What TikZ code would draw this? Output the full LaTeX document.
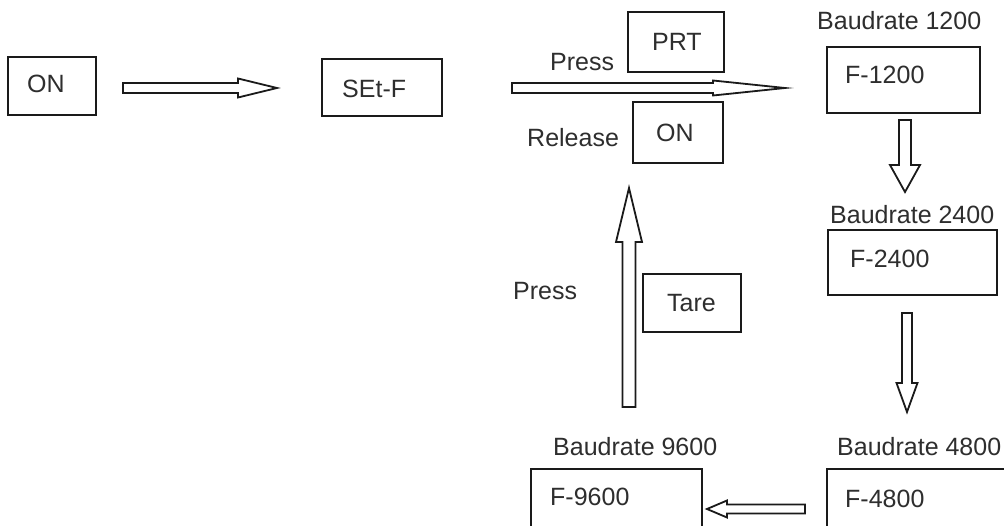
\documentclass[tikz,border=0pt]{standalone}
\usepackage{fontspec}
\setmainfont{Liberation Sans}
\usetikzlibrary{calc}
\definecolor{txtgray}{HTML}{2E2E2E}
\definecolor{linegray}{HTML}{1A1A1A}
\tikzset{
  box/.style={draw=linegray, line width=1.8pt, inner sep=0pt},
  lbl/.style={anchor=base west, inner sep=0pt, text=txtgray, font=\fontsize{25}{30}\selectfont},
  arr/.style={draw=linegray, line width=1.8pt, line join=miter, fill=white}
}
\newcommand\blockarr[5]{%
  \coordinate (tmphb) at ($(#2)!#4!(#1)$);
  \draw[arr] ($(#1)!#3!90:(#2)$) -- ($(tmphb)!#3!90:(#2)$) -- ($(tmphb)!#5!90:(#2)$) -- (#2)
    -- ($(tmphb)!#5!-90:(#2)$) -- ($(tmphb)!#3!-90:(#2)$) -- ($(#1)!#3!-90:(#2)$) -- cycle;}
\begin{document}
\begin{tikzpicture}[x=1pt,y=-1pt]
\useasboundingbox (0,0) rectangle (1004,526);
\clip (0,0) rectangle (1004,526);
\fill[white] (0,0) rectangle (1004,526);
% boxes
\node[box, minimum width=88pt, minimum height=58pt] (onbox) at (52,86) {};
\node[box, minimum width=120pt, minimum height=57pt] (setf) at (382,87.5) {};
\node[box, minimum width=96pt, minimum height=60pt] (prt) at (676,42) {};
\node[box, minimum width=90pt, minimum height=61pt] (ontwo) at (678,132.5) {};
\node[box, minimum width=153pt, minimum height=66pt] (f1200) at (903.5,80) {};
\node[box, minimum width=169pt, minimum height=65pt] (f2400) at (912.5,262.5) {};
\node[box, minimum width=98pt, minimum height=58pt] (tare) at (692,303) {};
\node[box, minimum width=171pt, minimum height=80pt] (f9600) at (616.5,509) {};
\node[box, minimum width=190pt, minimum height=80pt] (f4800) at (922,509) {};
% texts
\node[lbl] (tON) at (27,93) {ON};
\node[lbl] (tSET) at (342,98) {SEt-F};
\node[lbl] (tPress1) at (550,71) {Press};
\node[lbl] (tPRT) at (652,51) {PRT};
\node[lbl] (tRel) at (527,147) {Release};
\node[lbl] (tON2) at (656,142) {ON};
\node[lbl] (tB1200) at (817,30) {Baudrate 1200};
\node[lbl] (tF1200) at (845,84) {F-1200};
\node[lbl] (tB2400) at (830,224) {Baudrate 2400};
\node[lbl] (tF2400) at (850,268) {F-2400};
\node[lbl] (tPress2) at (513,300) {Press};
\node[lbl] (tTare) at (667,312) {Tare};
\node[lbl] (tB9600) at (553,455) {Baudrate 9600};
\node[lbl] (tB4800) at (837,455) {Baudrate 4800};
\node[lbl] (tF9600) at (550,505) {F-9600};
\node[lbl] (tF4800) at (845,507) {F-4800};
% arrow end points
\coordinate (a1s) at (123,88);  \coordinate (a1e) at (277,88);
\coordinate (a2s) at (512,88);  \coordinate (a2e) at (785,88);
\coordinate (a3s) at (905,120); \coordinate (a3e) at (905,192);
\coordinate (a4s) at (907,313); \coordinate (a4e) at (907,412);
\coordinate (a5s) at (629,407); \coordinate (a5e) at (629,188);
\coordinate (a6s) at (805,509); \coordinate (a6e) at (707,509);
\blockarr{a1s}{a1e}{5pt}{39pt}{9.5pt}
\blockarr{a2s}{a2e}{5pt}{72pt}{7.5pt}
\blockarr{a3s}{a3e}{6pt}{27pt}{15pt}
\blockarr{a4s}{a4e}{5pt}{29pt}{10.5pt}
\blockarr{a5s}{a5e}{6.5pt}{54pt}{13pt}
\blockarr{a6s}{a6e}{4.5pt}{20pt}{8.5pt}
\end{tikzpicture}
\end{document}
